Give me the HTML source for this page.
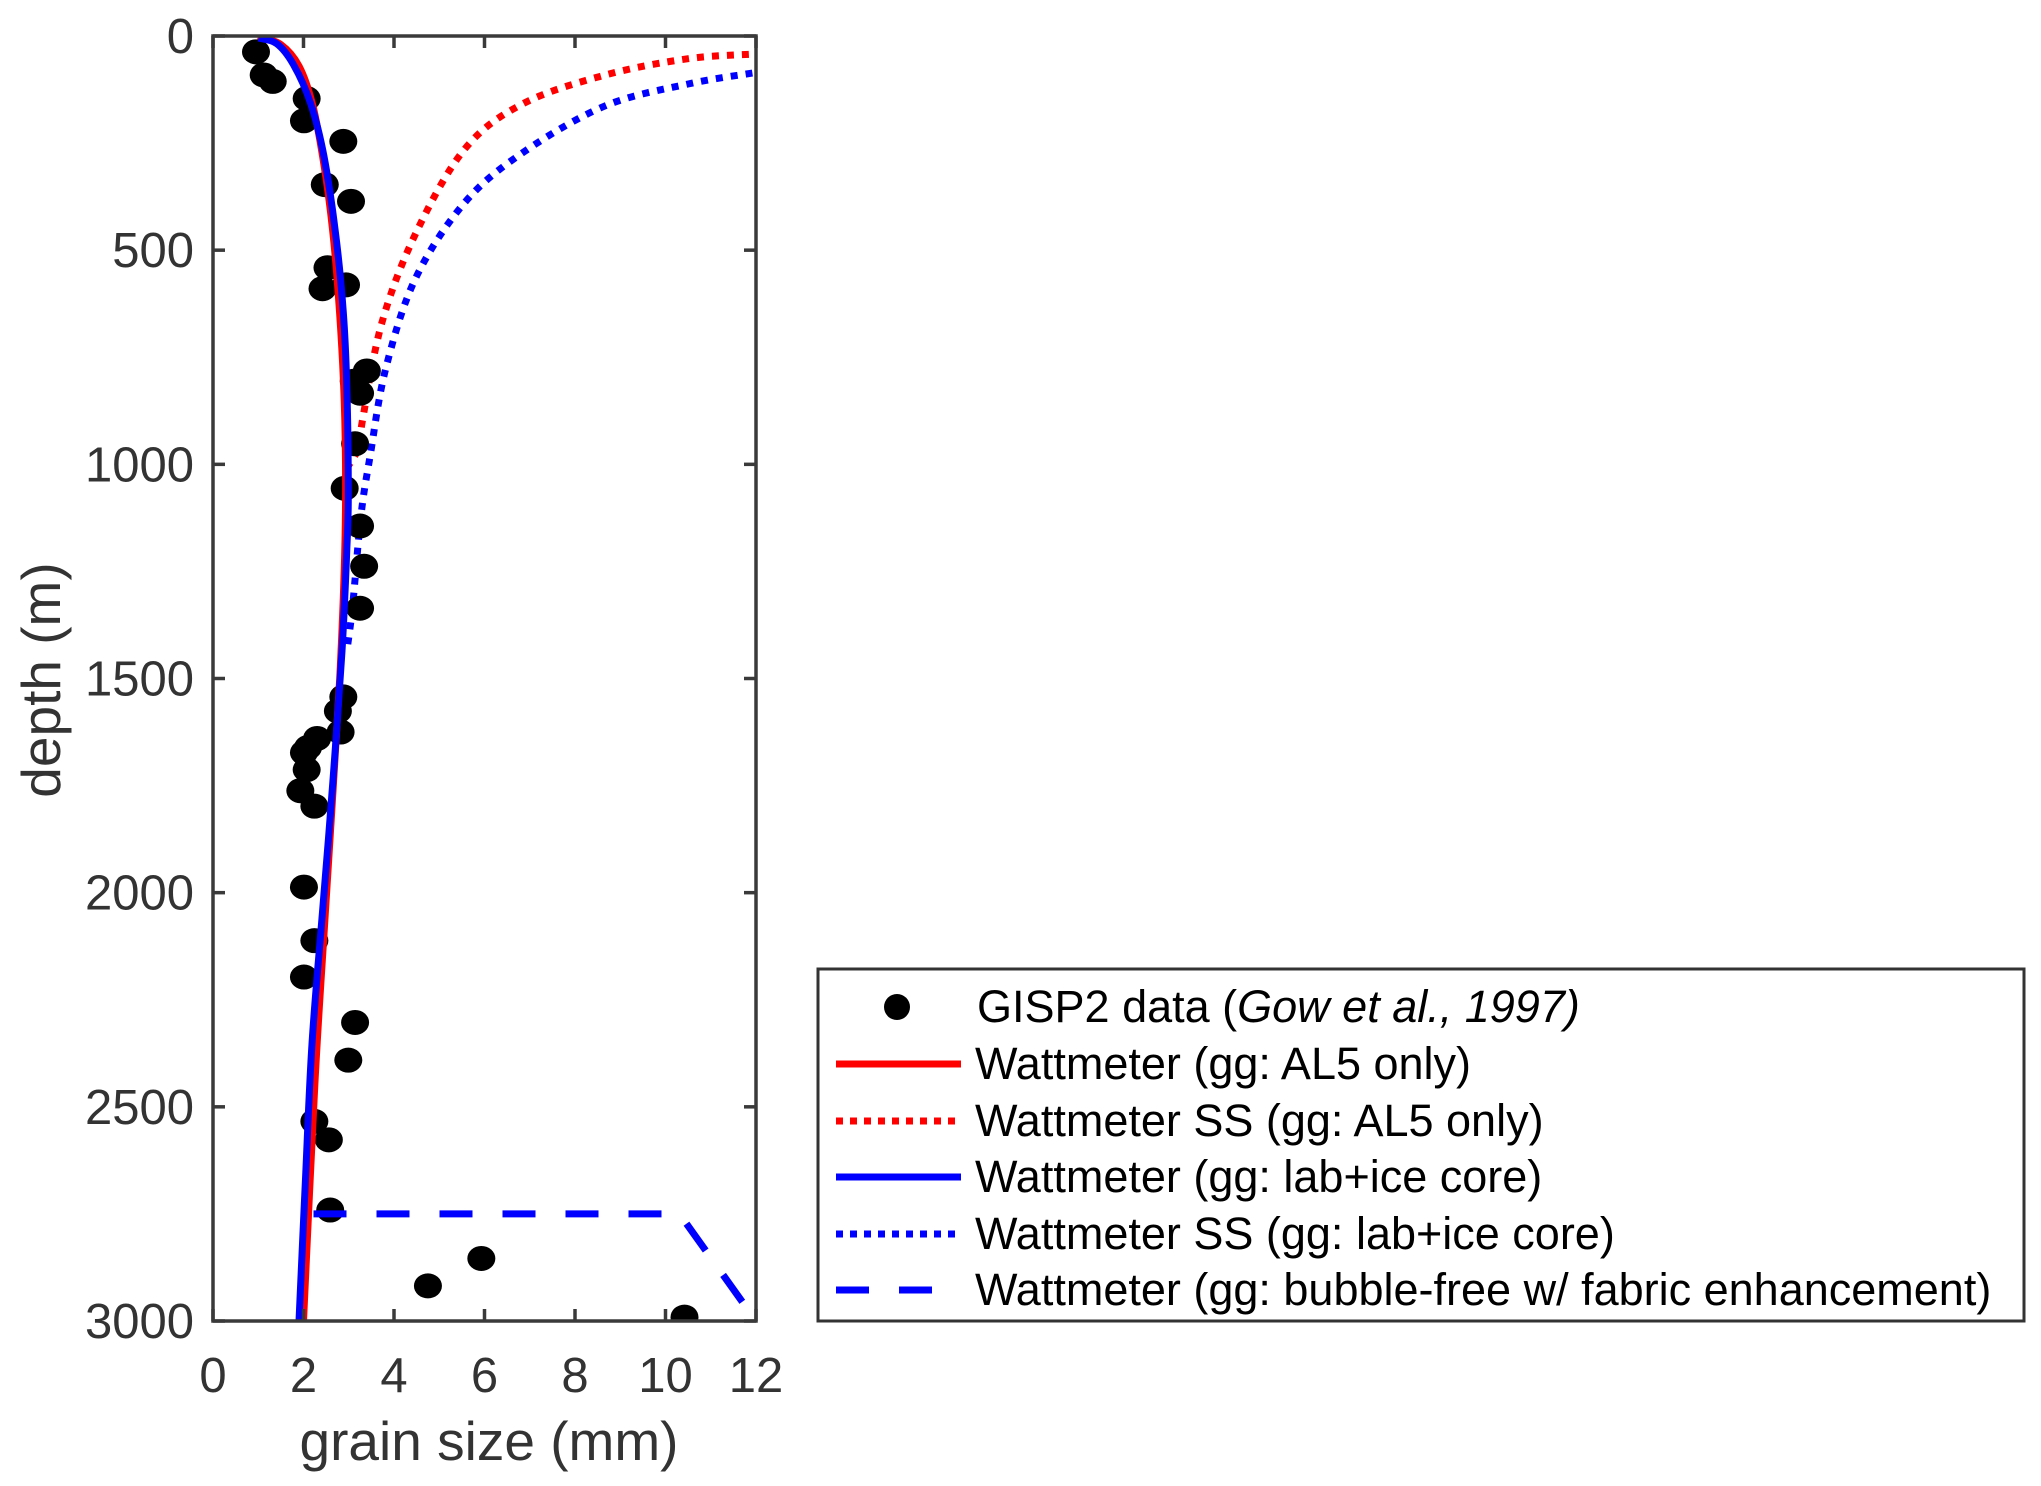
<!DOCTYPE html>
<html><head><meta charset="utf-8"><style>
html,body{margin:0;padding:0;background:#fff;}
svg{display:block;font-family:"Liberation Sans",Arial,sans-serif;}
</style></head><body>
<svg id="chart" width="2041" height="1486" viewBox="0 0 2041 1486" xmlns="http://www.w3.org/2000/svg">
<rect width="2041" height="1486" fill="#fff"/>
<g id="plot"></g>
<g id="axes"></g>
<text x="489" y="1460" font-size="55" fill="#333" text-anchor="middle">grain size (mm)</text>
<text transform="translate(60,680) rotate(-90)" font-size="55" fill="#333" text-anchor="middle">depth (m)</text>
<g>
<rect x="818" y="969" width="1206" height="352" fill="#fff" stroke="#333" stroke-width="3"/>
<circle cx="897" cy="1007" r="13" fill="#000"/>
<line x1="836" y1="1064" x2="961" y2="1064" stroke="#f00" stroke-width="7"/>
<line x1="836" y1="1121" x2="961" y2="1121" stroke="#f00" stroke-width="7" stroke-dasharray="7,7"/>
<line x1="836" y1="1177" x2="961" y2="1177" stroke="#00f" stroke-width="7"/>
<line x1="836" y1="1234" x2="961" y2="1234" stroke="#00f" stroke-width="7" stroke-dasharray="7,7"/>
<line x1="836" y1="1290" x2="961" y2="1290" stroke="#00f" stroke-width="7" stroke-dasharray="33,30"/>
<g font-size="45" fill="#000">
<text x="977" y="1022">GISP2 data (<tspan font-style="italic">Gow et al., 1997)</tspan></text>
<text x="975" y="1079">Wattmeter (gg: AL5 only)</text>
<text x="975" y="1136">Wattmeter SS (gg: AL5 only)</text>
<text x="975" y="1192">Wattmeter (gg: lab+ice core)</text>
<text x="975" y="1249">Wattmeter SS (gg: lab+ice core)</text>
<text x="975" y="1305">Wattmeter (gg: bubble-free w/ fabric enhancement)</text>
</g>
</g>
</svg>
<script>
const xTicks=[0,2,4,6,8,10,12];
const yTicks=[0,500,1000,1500,2000,2500,3000];
const dataX=[0.95,1.12,1.32,2.07,2.01,2.88,2.47,3.05,2.53,2.42,2.94,3.40,3.11,3.25,3.14,2.91,3.25,3.34,3.25,2.88,2.76,2.82,2.30,2.10,2.01,2.07,1.93,2.24,2.01,2.24,2.01,3.14,2.99,2.24,2.56,2.59,5.93,4.75,10.42];
const dataY=[37,91,106,146,198,246,347,386,541,590,581,782,806,834,952,1056,1144,1238,1336,1543,1576,1625,1640,1661,1673,1713,1762,1798,1987,2112,2197,2303,2391,2534,2577,2741,2854,2918,2991];
const al5X=[1.0,1.5,1.9,2.2,2.45,2.65,2.8,2.9,2.93,2.9,2.8,2.63,2.45,2.25,2.0];
const al5Y=[0,20,70,160,300,460,650,850,1050,1250,1500,1800,2100,2450,3000];
const labX=[1.01,1.41,1.78,2.16,2.45,2.71,2.88,2.96,2.99,2.96,2.85,2.65,2.42,2.19,2.05,1.9];
const labY=[5,18,67,158,280,462,645,828,1071,1193,1436,1740,2045,2349,2653,3000];
const al5ssX=[2.95,3.22,3.31,3.73,4.48,5.57,6.85,8.67,10.5,11.96,12.1];
const al5ssY=[1010,961,893,670,461,263,158,91,53,42,40];
const labssX=[2.98,3.09,3.27,3.47,3.82,4.48,5.57,6.85,8.67,10.5,11.96,12.1];
const labssY=[1420,1326,1119,982,775,565,388,272,163,112,86,84];
const bfX=[2.22,10.31,12.0];
const bfY=[2750,2750,3000];
const X0=213,X1=756,Y0=36,Y1=1321;
const sx=v=>X0+(v-0)/(12-0)*(X1-X0);
const sy=v=>Y0+(v-0)/(3000-0)*(Y1-Y0);
const NS="http://www.w3.org/2000/svg";
const plot=document.getElementById('plot'),axes=document.getElementById('axes');
function smoothD(xs,ys){
  const P=xs.map((x,i)=>[sx(x),sy(ys[i])]);
  let d='M'+P[0][0].toFixed(1)+','+P[0][1].toFixed(1);
  for(let i=0;i<P.length-1;i++){
    const p0=P[i-1]||P[i],p1=P[i],p2=P[i+1],p3=P[i+2]||P[i+1];
    const c1=[p1[0]+(p2[0]-p0[0])/6,p1[1]+(p2[1]-p0[1])/6];
    const c2=[p2[0]-(p3[0]-p1[0])/6,p2[1]-(p3[1]-p1[1])/6];
    d+='C'+c1.map(v=>v.toFixed(1)).join(',')+' '+c2.map(v=>v.toFixed(1)).join(',')+' '+p2[0].toFixed(1)+','+p2[1].toFixed(1);
  }
  return d;
}
function path(xs,ys,color,dash,name,smooth){
  const p=document.createElementNS(NS,'path');
  p.setAttribute('d',smooth?smoothD(xs,ys):xs.map((x,i)=>(i?'L':'M')+sx(x).toFixed(1)+','+sy(ys[i]).toFixed(1)).join(''));
  p.setAttribute('fill','none');p.setAttribute('stroke',color);p.setAttribute('stroke-width','7');
  p.setAttribute('stroke-linejoin','round');
  if(dash)p.setAttribute('stroke-dasharray',dash);
  
  
  plot.appendChild(p);
}
const cp=document.createElementNS(NS,'clipPath');cp.id='clip';
const cr=document.createElementNS(NS,'rect');cr.setAttribute('x',X0);cr.setAttribute('y',Y0);cr.setAttribute('width',X1-X0);cr.setAttribute('height',Y1-Y0);
cp.appendChild(cr);plot.appendChild(cp);plot.setAttribute('clip-path','url(#clip)');
path(al5ssX,al5ssY,'#f00','7,8','series-al5-ss',true);
path(labssX,labssY,'#00f','7,8','series-lab-ss',true);
for(let i=0;i<dataX.length;i++){
  const c=document.createElementNS(NS,'ellipse');
  c.setAttribute('cx',sx(dataX[i]));c.setAttribute('cy',sy(dataY[i]));c.setAttribute('rx',14);c.setAttribute('ry',12.5);c.setAttribute('fill','#000');
  
  
  plot.appendChild(c);
}
path(al5X,al5Y,'#f00',null,'series-al5',true);
path(labX,labY,'#00f',null,'series-lab',true);
path(bfX,bfY,'#00f','33,30','series-bubble-free',false);
const box=document.createElementNS(NS,'rect');
box.setAttribute('x',X0);box.setAttribute('y',Y0);box.setAttribute('width',X1-X0);box.setAttribute('height',Y1-Y0);
box.setAttribute('fill','none');box.setAttribute('stroke','#3a3a3a');box.setAttribute('stroke-width','3.5');


axes.appendChild(box);
function ln(x1,y1,x2,y2){const l=document.createElementNS(NS,'line');l.setAttribute('x1',x1);l.setAttribute('y1',y1);l.setAttribute('x2',x2);l.setAttribute('y2',y2);l.setAttribute('stroke','#3a3a3a');l.setAttribute('stroke-width','3.5');


axes.appendChild(l);}
function txt(x,y,s,anchor,name){const t=document.createElementNS(NS,'text');t.setAttribute('x',x);t.setAttribute('y',y);t.setAttribute('font-size','49');t.setAttribute('fill','#333');t.setAttribute('text-anchor',anchor);t.textContent=s;


axes.appendChild(t);}
xTicks.forEach(v=>{const x=sx(v);ln(x,Y1,x,Y1-12);ln(x,Y0,x,Y0+12);txt(x,1392,String(v),'middle','x-tick-label');});
yTicks.forEach(v=>{const y=sy(v);ln(X0,y,X0+12,y);ln(X1,y,X1-12,y);txt(194,y+17,String(v),'end','y-tick-label');});
</script>
</body></html>
